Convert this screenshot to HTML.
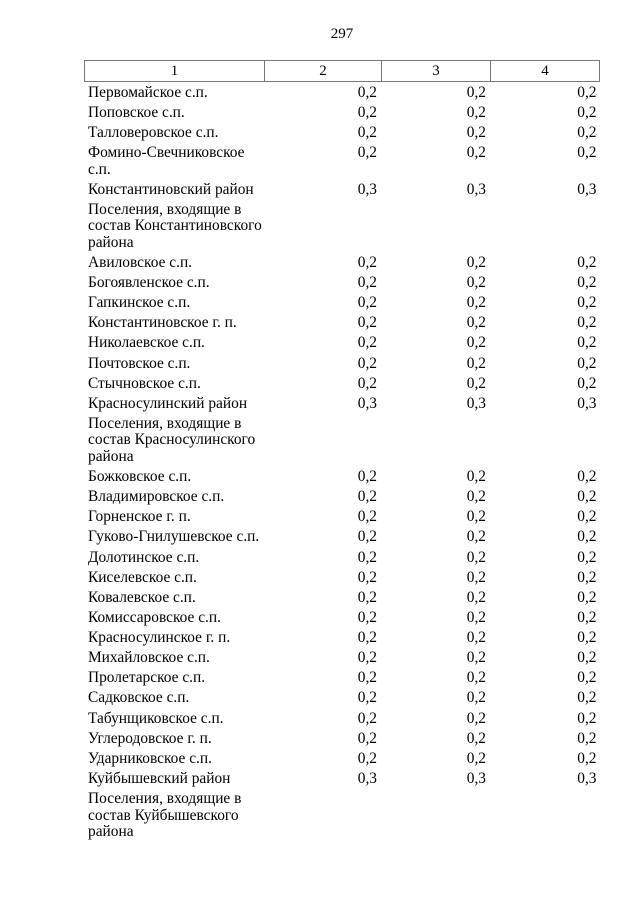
<!DOCTYPE html>
<html>
<head>
<meta charset="utf-8">
<style>
  html, body { margin:0; padding:0; background:#fff; }
  body { width:640px; height:905px; position:relative; overflow:hidden;
         font-family:"Liberation Serif", "Noto Serif CJK SC", serif; font-size:15.4px; color:#000; }
  .pn { position:absolute; left:0; width:684px; top:25px; text-align:center; line-height:18px; font-size:15px; }
  .hdr { position:absolute; top:60px; left:84px; width:516px; height:22px;
         border:1px solid #777; box-sizing:border-box; display:flex; font-size:15px; }
  .hdr div { box-sizing:border-box; text-align:center; line-height:20px; border-right:1px solid #777; }
  .hdr div:last-child { border-right:none; }
  .rows { position:absolute; top:82.5px; left:84px; width:516px; }
  .r { display:flex; padding:2.2px 0 1.45px 0; line-height:16.5px; }
  .c1 { width:180px; padding-left:4px; box-sizing:border-box; white-space:nowrap; }
  .c2 { width:117px; text-align:right; padding-right:4px; box-sizing:border-box; }
  .c3 { width:109px; text-align:right; padding-right:4px; box-sizing:border-box; }
  .c4 { width:110px; text-align:right; padding-right:3.5px; box-sizing:border-box; }
</style>
</head>
<body>
<div class="pn">297</div>
<div class="hdr">
  <div style="width:180px">1</div>
  <div style="width:117px">2</div>
  <div style="width:109px">3</div>
  <div style="width:108px">4</div>
</div>
<div class="rows">
  <div class="r"><div class="c1">Первомайское с.п.</div><div class="c2">0,2</div><div class="c3">0,2</div><div class="c4">0,2</div></div>
  <div class="r"><div class="c1">Поповское с.п.</div><div class="c2">0,2</div><div class="c3">0,2</div><div class="c4">0,2</div></div>
  <div class="r"><div class="c1">Талловеровское с.п.</div><div class="c2">0,2</div><div class="c3">0,2</div><div class="c4">0,2</div></div>
  <div class="r"><div class="c1">Фомино-Свечниковское<br>с.п.</div><div class="c2">0,2</div><div class="c3">0,2</div><div class="c4">0,2</div></div>
  <div class="r"><div class="c1">Константиновский район</div><div class="c2">0,3</div><div class="c3">0,3</div><div class="c4">0,3</div></div>
  <div class="r"><div class="c1">Поселения, входящие в<br>состав Константиновского<br>района</div><div class="c2"></div><div class="c3"></div><div class="c4"></div></div>
  <div class="r"><div class="c1">Авиловское с.п.</div><div class="c2">0,2</div><div class="c3">0,2</div><div class="c4">0,2</div></div>
  <div class="r"><div class="c1">Богоявленское с.п.</div><div class="c2">0,2</div><div class="c3">0,2</div><div class="c4">0,2</div></div>
  <div class="r"><div class="c1">Гапкинское с.п.</div><div class="c2">0,2</div><div class="c3">0,2</div><div class="c4">0,2</div></div>
  <div class="r"><div class="c1">Константиновское г. п.</div><div class="c2">0,2</div><div class="c3">0,2</div><div class="c4">0,2</div></div>
  <div class="r"><div class="c1">Николаевское с.п.</div><div class="c2">0,2</div><div class="c3">0,2</div><div class="c4">0,2</div></div>
  <div class="r"><div class="c1">Почтовское с.п.</div><div class="c2">0,2</div><div class="c3">0,2</div><div class="c4">0,2</div></div>
  <div class="r"><div class="c1">Стычновское с.п.</div><div class="c2">0,2</div><div class="c3">0,2</div><div class="c4">0,2</div></div>
  <div class="r"><div class="c1">Красносулинский район</div><div class="c2">0,3</div><div class="c3">0,3</div><div class="c4">0,3</div></div>
  <div class="r"><div class="c1">Поселения, входящие в<br>состав Красносулинского<br>района</div><div class="c2"></div><div class="c3"></div><div class="c4"></div></div>
  <div class="r"><div class="c1">Божковское с.п.</div><div class="c2">0,2</div><div class="c3">0,2</div><div class="c4">0,2</div></div>
  <div class="r"><div class="c1">Владимировское с.п.</div><div class="c2">0,2</div><div class="c3">0,2</div><div class="c4">0,2</div></div>
  <div class="r"><div class="c1">Горненское г. п.</div><div class="c2">0,2</div><div class="c3">0,2</div><div class="c4">0,2</div></div>
  <div class="r"><div class="c1">Гуково-Гнилушевское с.п.</div><div class="c2">0,2</div><div class="c3">0,2</div><div class="c4">0,2</div></div>
  <div class="r"><div class="c1">Долотинское с.п.</div><div class="c2">0,2</div><div class="c3">0,2</div><div class="c4">0,2</div></div>
  <div class="r"><div class="c1">Киселевское с.п.</div><div class="c2">0,2</div><div class="c3">0,2</div><div class="c4">0,2</div></div>
  <div class="r"><div class="c1">Ковалевское с.п.</div><div class="c2">0,2</div><div class="c3">0,2</div><div class="c4">0,2</div></div>
  <div class="r"><div class="c1">Комиссаровское с.п.</div><div class="c2">0,2</div><div class="c3">0,2</div><div class="c4">0,2</div></div>
  <div class="r"><div class="c1">Красносулинское г. п.</div><div class="c2">0,2</div><div class="c3">0,2</div><div class="c4">0,2</div></div>
  <div class="r"><div class="c1">Михайловское с.п.</div><div class="c2">0,2</div><div class="c3">0,2</div><div class="c4">0,2</div></div>
  <div class="r"><div class="c1">Пролетарское с.п.</div><div class="c2">0,2</div><div class="c3">0,2</div><div class="c4">0,2</div></div>
  <div class="r"><div class="c1">Садковское с.п.</div><div class="c2">0,2</div><div class="c3">0,2</div><div class="c4">0,2</div></div>
  <div class="r"><div class="c1">Табунщиковское с.п.</div><div class="c2">0,2</div><div class="c3">0,2</div><div class="c4">0,2</div></div>
  <div class="r"><div class="c1">Углеродовское г. п.</div><div class="c2">0,2</div><div class="c3">0,2</div><div class="c4">0,2</div></div>
  <div class="r"><div class="c1">Ударниковское с.п.</div><div class="c2">0,2</div><div class="c3">0,2</div><div class="c4">0,2</div></div>
  <div class="r"><div class="c1">Куйбышевский район</div><div class="c2">0,3</div><div class="c3">0,3</div><div class="c4">0,3</div></div>
  <div class="r"><div class="c1">Поселения, входящие в<br>состав Куйбышевского<br>района</div><div class="c2"></div><div class="c3"></div><div class="c4"></div></div>
</div>
</body>
</html>
